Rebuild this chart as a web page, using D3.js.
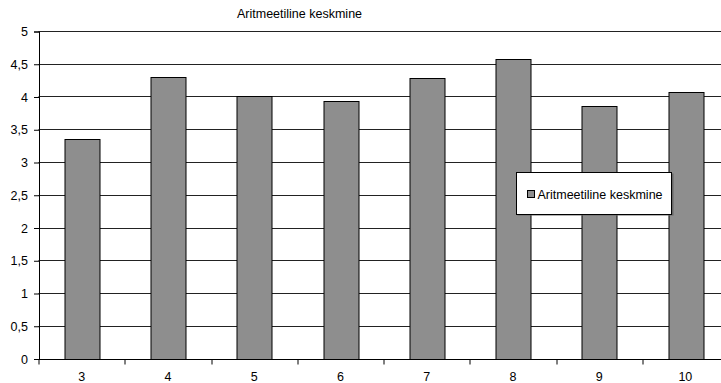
<!DOCTYPE html>
<html>
<head>
<meta charset="utf-8">
<script src="https://cdn.jsdelivr.net/npm/d3@7"></script>
<style>
  body { margin: 0; background: #fff; }
  text { font-family: "Liberation Sans", Arial, sans-serif; }
</style>
</head>
<body>
<div id="chart"></div>
<script>
// data
let categories = ["3", "4", "5", "6", "7", "8", "9", "10"];
let values = [3.35, 4.3, 4.0, 3.93, 4.29, 4.57, 3.86, 4.07];
let yTicks = [0, 0.5, 1, 1.5, 2, 2.5, 3, 3.5, 4, 4.5, 5];
let seriesName = "Aritmeetiline keskmine";

let W = 721, H = 383;
let margin = { TOP: 31, LEFT: 38.5 };
let w = 690, h = 327.5;
let fontSize = "12.5px";

let svg = d3.select("#chart").append("svg")
  .attr("width", W)
  .attr("height", H);

let g = svg.append("g")
  .attr("transform", `translate(${margin.LEFT}, ${margin.TOP})`);

let xScale = d3.scaleBand()
  .domain(categories)
  .range([0, w])
  .paddingInner(0.6)
  .paddingOuter(0.3);

let yScale = d3.scaleLinear()
  .domain([0, 5])
  .range([h, 0]);

// grid
g.selectAll(".grid")
  .data(yTicks)
  .enter()
  .append("line")
  .attr("class", "grid")
  .attr("x1", 0)
  .attr("x2", w)
  .attr("y1", d => Math.round(yScale(d)) + 0.5)
  .attr("y2", d => Math.round(yScale(d)) + 0.5)
  .attr("stroke", "#222")
  .attr("stroke-width", 1);

// bars
g.selectAll(".bar")
  .data(values)
  .enter()
  .append("rect")
  .attr("class", "bar")
  .attr("x", (d, i) => Math.round(xScale(categories[i])) + 0.5)
  .attr("y", d => Math.round(yScale(d)) + 0.5)
  .attr("width", Math.round(xScale.bandwidth()))
  .attr("height", d => Math.round(yScale(0)) - Math.round(yScale(d)))
  .attr("fill", "#8e8e8e")
  .attr("stroke", "#000")
  .attr("stroke-width", 1);

// y axis
let yAxisCall = d3.axisLeft(yScale)
  .tickValues(yTicks)
  .tickSize(5)
  .tickPadding(6)
  .tickFormat(d => String(d).replace(".", ","));

let yAxisGroup = g.append("g")
  .attr("class", "yAxis")
  .attr("transform", "translate(0.5, 0.5)")
  .call(yAxisCall);

// x axis, ticks sit between the categories
let xAxisGroup = g.append("g")
  .attr("class", "xAxis")
  .attr("transform", `translate(0, ${Math.round(h) + 0.5})`);

xAxisGroup.append("line")
  .attr("x1", 0).attr("x2", w)
  .attr("stroke", "#000");

xAxisGroup.selectAll(".xtick")
  .data(d3.range(categories.length + 1))
  .enter()
  .append("line")
  .attr("class", "xtick")
  .attr("x1", i => Math.round(i * xScale.step()) + 0.5)
  .attr("x2", i => Math.round(i * xScale.step()) + 0.5)
  .attr("y1", 0)
  .attr("y2", 5)
  .attr("stroke", "#000");

xAxisGroup.selectAll(".xlabel")
  .data(categories)
  .enter()
  .append("text")
  .attr("class", "xlabel")
  .attr("x", d => xScale(d) + xScale.bandwidth() / 2)
  .attr("y", 21)
  .attr("text-anchor", "middle")
  .attr("font-size", fontSize)
  .attr("fill", "#000")
  .text(d => d);

yAxisGroup.select(".domain").attr("stroke", "#000");
yAxisGroup.selectAll(".tick line").attr("stroke", "#000");
yAxisGroup.selectAll(".tick text")
  .attr("font-size", fontSize)
  .attr("font-family", "Liberation Sans, Arial, sans-serif")
  .attr("fill", "#000");

// title
svg.append("text")
  .attr("x", 237)
  .attr("y", 18)
  .attr("font-size", fontSize)
  .attr("fill", "#000")
  .text(seriesName);

// legend
let legend = svg.append("g")
  .attr("transform", "translate(516.5, 172.5)");

legend.append("rect")
  .attr("x", 1).attr("y", 1)
  .attr("width", 156).attr("height", 42)
  .attr("fill", "#666");

legend.append("rect")
  .attr("width", 155).attr("height", 42)
  .attr("fill", "#fff")
  .attr("stroke", "#000");

legend.append("rect")
  .attr("x", 11).attr("y", 18)
  .attr("width", 7).attr("height", 7)
  .attr("fill", "#8e8e8e")
  .attr("stroke", "#000");

legend.append("text")
  .attr("x", 21)
  .attr("y", 26)
  .attr("font-size", fontSize)
  .attr("fill", "#000")
  .text(seriesName);
</script>
</body>
</html>
